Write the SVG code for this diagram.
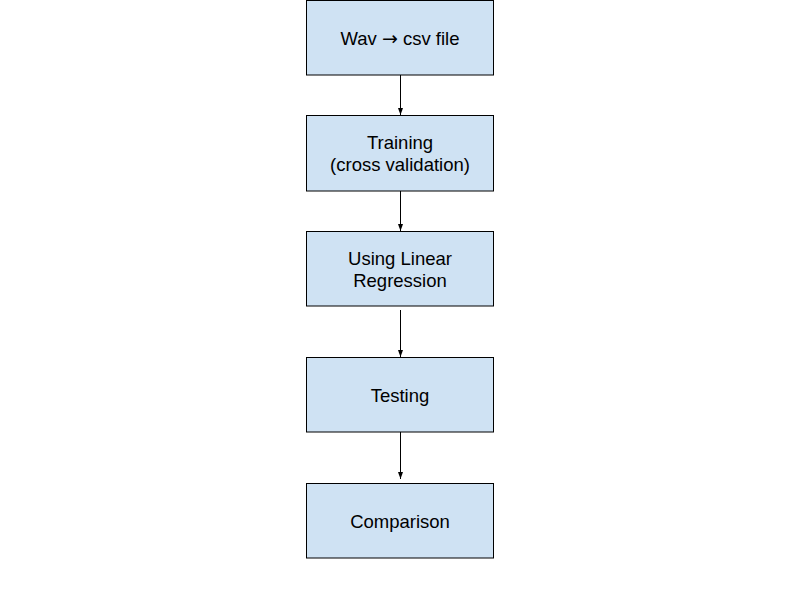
<svg xmlns="http://www.w3.org/2000/svg" width="800" height="600" viewBox="0 0 800 600">
<style>
.box{fill:#cfe2f3;stroke:#000;stroke-width:1}
.lbl{font-family:"Liberation Sans",Arial,sans-serif;font-size:18.5px;fill:#000;text-anchor:middle}
.arr{font-family:"DejaVu Sans",sans-serif;font-size:19px}
.edge{stroke:#000;stroke-width:1;fill:none}
</style>
<defs>
<marker id="ah" markerWidth="8" markerHeight="8" refX="7" refY="4" orient="auto" markerUnits="userSpaceOnUse">
<path d="M0,1.5 L7,4 L0,6.5 z" fill="#000"/>
</marker>
</defs>
<rect width="800" height="600" fill="#fff"/>
<g id="connectors">
<line class="edge" x1="400.5" y1="75" x2="400.5" y2="115" marker-end="url(#ah)"/>
<line class="edge" x1="400.5" y1="191" x2="400.5" y2="231" marker-end="url(#ah)"/>
<line class="edge" x1="400.5" y1="310" x2="400.5" y2="357" marker-end="url(#ah)"/>
<line class="edge" x1="400.5" y1="432" x2="400.5" y2="479" marker-end="url(#ah)"/>
</g>
<g id="node1"><rect class="box" x="306.5" y="0.5" width="187" height="74.5"/><text class="lbl" x="400" y="45">Wav <tspan class="arr">→</tspan> csv file</text></g>
<g id="node2"><rect class="box" x="306.5" y="115.5" width="187" height="75.5"/><text class="lbl" x="400" y="149">Training</text><text class="lbl" x="400" y="171">(cross validation)</text></g>
<g id="node3"><rect class="box" x="306.5" y="231.5" width="187" height="74.5"/><text class="lbl" x="400" y="265">Using Linear</text><text class="lbl" x="400" y="287">Regression</text></g>
<g id="node4"><rect class="box" x="306.5" y="357.5" width="187" height="74.5"/><text class="lbl" x="400" y="402">Testing</text></g>
<g id="node5"><rect class="box" x="306.5" y="483.5" width="187" height="74.5"/><text class="lbl" x="400" y="528">Comparison</text></g>
</svg>
